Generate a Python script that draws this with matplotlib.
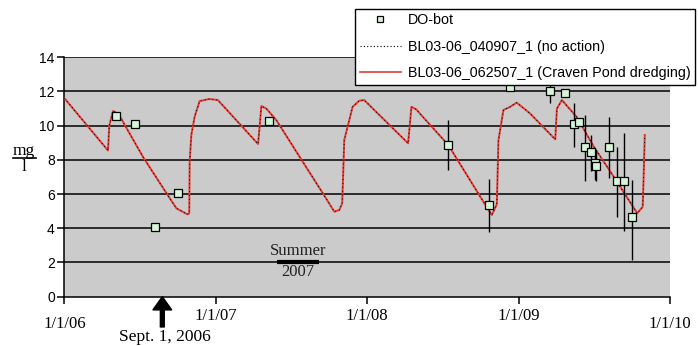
import matplotlib
matplotlib.use('Agg')
import matplotlib.pyplot as plt
import pandas as pd
from matplotlib.lines import Line2D

# simulated DO (model runs)
sim_dates = ['2006-01-01', '2006-04-16', '2006-04-19', '2006-04-28', '2006-05-03',
             '2006-05-15', '2006-07-09', '2006-09-04', '2006-09-28', '2006-10-24',
             '2006-10-29', '2006-10-30', '2006-11-03', '2006-11-11', '2006-11-23',
             '2006-12-16', '2007-01-06', '2007-04-13', '2007-04-21', '2007-05-03',
             '2007-05-27', '2007-07-22', '2007-09-24', '2007-10-14', '2007-10-26',
             '2007-11-02', '2007-11-07', '2007-11-27', '2007-12-13', '2007-12-25',
             '2008-04-09', '2008-04-17', '2008-04-29', '2008-05-07', '2008-07-15',
             '2008-10-20', '2008-10-28', '2008-11-09', '2008-11-13', '2008-11-25',
             '2008-12-11', '2008-12-27', '2009-01-28', '2009-03-30', '2009-04-03',
             '2009-04-15', '2009-05-21', '2009-07-01', '2009-08-18', '2009-10-06',
             '2009-10-14', '2009-10-27', '2009-10-29', '2009-11-01']
sim_dredging = [11.6, 8.55, 10.0, 10.86, 10.8,
                10.53, 8.19, 6.05, 5.17, 4.82,
                4.88, 7.9, 9.46, 10.53, 11.44,
                11.56, 11.5, 8.93, 11.15, 11.0,
                10.33, 8.19, 5.75, 4.97, 5.07,
                5.46, 9.16, 11.1, 11.46, 11.5,
                8.97, 11.1, 10.95, 10.72, 8.87,
                5.07, 4.78, 5.4, 9.16, 10.92,
                11.1, 11.35, 10.72, 9.2, 11.0,
                11.5, 10.5, 8.77, 7.02, 5.17,
                4.88, 5.26, 6.82, 9.46]
sim_noaction = list(sim_dredging)

# observed DO-bot
do_dates = ['2006-05-05', '2006-06-19', '2006-08-07', '2006-10-03', '2007-05-09',
            '2008-07-14', '2008-10-21', '2008-12-11', '2009-03-17', '2009-04-23',
            '2009-05-15', '2009-05-27', '2009-06-10', '2009-06-24', '2009-07-04',
            '2009-07-07', '2009-08-06', '2009-08-25', '2009-09-12', '2009-10-01']
do_values = [10.59, 10.12, 4.06, 6.08, 10.27,
             8.87, 5.36, 12.24, 12.05, 11.93,
             10.08, 10.2, 8.74, 8.44, 7.8,
             7.65, 8.74, 6.77, 6.77, 4.64]
do_err_low = [0, 0, 0, 0, 0,
              1.46, 1.56, 0, 0.75, 0,
              1.3, 0, 2.0, 1.1, 0.95,
              0.9, 1.8, 2.1, 2.9, 2.5]
do_err_high = [0, 0, 0, 0, 0,
               1.46, 1.5, 0, 0.75, 0,
               1.25, 0, 1.86, 1.0, 0.8,
               0.9, 1.75, 2.0, 2.8, 2.2]

tick_dates = ['2006-01-01', '2007-01-01', '2008-01-01', '2009-01-01', '2010-01-01']
tick_labels = ['1/1/06', '1/1/07', '1/1/08', '1/1/09', '1/1/10']
arrow_date = '2006-08-25'
event_date = '2006-09-01'
summer_span = ['2007-05-29', '2007-09-07']

sim_x = pd.to_datetime(sim_dates)
do_x = pd.to_datetime(do_dates)
ticks = pd.to_datetime(tick_dates)
arr = pd.Timestamp(arrow_date)
ev = pd.Timestamp(event_date)
sm = pd.to_datetime(summer_span)

fig = plt.figure(figsize=(6.98, 3.46), dpi=100)
ax = fig.add_axes([0.0924, 0.1425, 0.8676, 0.6919])
ax.set_facecolor('#cbcbcb')

ax.set_ylim(0, 14)
ax.set_xlim(ticks[0], ticks[-1])
ax.set_yticks(range(0, 15, 2))
for v in range(2, 15, 2):
    ax.axhline(v, color='black', lw=1.1, zorder=1)

ax.plot(sim_x, sim_dredging, color='#e33b36', lw=1.4, zorder=3)
ax.plot(sim_x, sim_noaction, color='black', lw=0.7, ls=(0, (1, 3)), zorder=4)
ax.errorbar(do_x, do_values, yerr=[do_err_low, do_err_high], fmt='none',
            ecolor='black', elinewidth=1.0, capsize=0, zorder=5)
ax.plot(do_x, do_values, 's', ms=5.5, mfc='#d6f5d6', mec='black', mew=0.9,
        ls='none', zorder=6)

for s in ['top', 'right']:
    ax.spines[s].set_visible(False)
ax.spines['left'].set_linewidth(1.1)
ax.spines['bottom'].set_linewidth(1.1)

ax.set_xticks(ticks)
ax.set_xticklabels(tick_labels, family='Liberation Serif', fontsize=12)
ax.tick_params(axis='x', length=5, width=1.1, pad=3)
ax.tick_params(axis='y', length=5, width=1.1, pad=2, labelsize=10)
for lab in ax.get_yticklabels():
    lab.set_family('Liberation Sans')
xt = ax.xaxis.get_major_ticks()
xt[0].set_pad(9)
xt[-1].set_pad(9)

# y label as fraction
fig.text(24/698, 1-151/346, 'mg', family='Liberation Serif', fontsize=12.5,
         ha='center', va='center')
fig.add_artist(Line2D([13/698, 36/698], [1-158/346, 1-158/346], color='black', lw=1.2))
fig.text(24/698, 1-167/346, 'l', family='Liberation Serif', fontsize=12.5,
         ha='center', va='center')

# event arrow
ax.annotate('', xy=(arr, 0), xytext=(arr, -1.77),
            arrowprops=dict(facecolor='black', edgecolor='black', width=2.8,
                            headwidth=13.5, headlength=9.5, shrink=0),
            annotation_clip=False)
ax.text(ev, -2.35, 'Sept. 1, 2006', family='Liberation Serif', fontsize=12.5,
        ha='center', va='center', clip_on=False)

# summer 2007 label
mid = sm[0] + (sm[1] - sm[0]) / 2
ax.text(mid, 2.67, 'Summer', family='Liberation Serif', fontsize=12,
        ha='center', va='center', color='#222222')
ax.hlines(2.03, sm[0], sm[1], color='black', lw=3)
ax.text(mid, 1.42, '2007', family='Liberation Serif', fontsize=12,
        ha='center', va='center', color='#222222')

handles = [
    Line2D([], [], marker='s', ls='none', ms=4.5, mfc='#d6f5d6', mec='black', mew=0.9),
    Line2D([], [], color='black', lw=0.8, ls=(0, (1, 2))),
    Line2D([], [], color='#e33b36', lw=1.2),
]
labels = ['DO-bot', 'BL03-06_040907_1 (no action)',
          'BL03-06_062507_1 (Craven Pond dredging)']
leg = fig.legend(handles, labels, loc='upper right',
                 bbox_to_anchor=(695/698, 1-9/346), bbox_transform=fig.transFigure,
                 prop={'family': 'Liberation Sans', 'size': 10.3},
                 frameon=True, fancybox=False, framealpha=1, edgecolor='black',
                 borderpad=0.3, labelspacing=0.88, handlelength=2.88,
                 handletextpad=0.5, borderaxespad=0)
leg.get_frame().set_linewidth(1.0)
leg.set_zorder(10)

fig.savefig('out.png', dpi=100)
